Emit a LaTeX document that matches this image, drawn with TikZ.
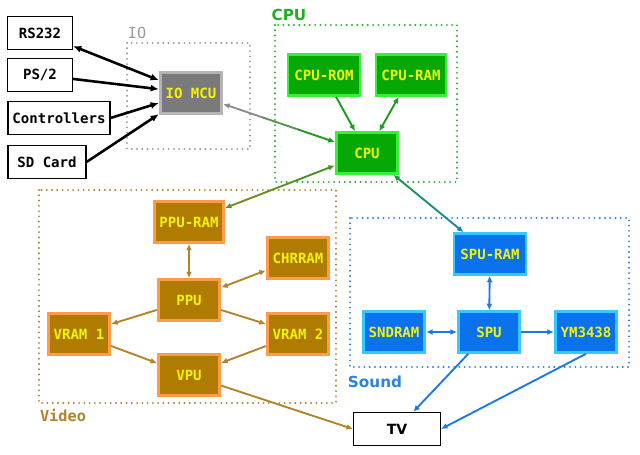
\documentclass[tikz,border=0pt]{standalone}
\usepackage{fontspec}
\setmainfont{DejaVu Sans}
\setsansfont{DejaVu Sans}
\setmonofont{DejaVu Sans Mono}
\usepackage{xcolor}
\usepackage{tikz}
\usetikzlibrary{calc}
\usetikzlibrary{arrows.meta}

\definecolor{chipyellow}{HTML}{F2F20A}
\definecolor{iofill}{HTML}{7A7A7A}
\definecolor{ioedge}{HTML}{B4B4B4}
\definecolor{iogroup}{HTML}{9A9A9A}
\definecolor{cpufill}{HTML}{06A806}
\definecolor{cpuedge}{HTML}{3AEE3A}
\definecolor{cpugroup}{HTML}{22B022}
\definecolor{cpulink}{HTML}{1C9A1C}
\definecolor{vidfill}{HTML}{AF7B00}
\definecolor{videdge}{HTML}{FF9B4A}
\definecolor{vidgroup}{HTML}{B0822A}
\definecolor{vidlink}{HTML}{B08428}
\definecolor{sndfill}{HTML}{0A72EC}
\definecolor{sndedge}{HTML}{36C8FF}
\definecolor{sndgroup}{HTML}{2A82E6}
\definecolor{sndlink}{HTML}{1A78E8}
\definecolor{linkgray}{HTML}{8C8C8C}

\tikzset{
  chip/.style={rectangle, line width=2.5pt, minimum width=1.84cm, minimum height=1.22cm,
    inner sep=1pt, text=chipyellow, font=\fontsize{12}{14}\selectfont\ttfamily\bfseries},
  iochip/.style={chip, fill=iofill, draw=ioedge},
  cpuchip/.style={chip, fill=cpufill, draw=cpuedge},
  vidchip/.style={chip, fill=vidfill, draw=videdge},
  sndchip/.style={chip, fill=sndfill, draw=sndedge},
  port/.style={rectangle, draw=black, line width=0.9pt, fill=white, minimum width=1.95cm,
    minimum height=0.97cm, inner sep=1pt, font=\fontsize{12}{14}\selectfont\ttfamily\bfseries},
  group/.style={line width=1.8pt, dash pattern=on 0pt off 4.5pt, line cap=round},
  grouplabel/.style={inner sep=0pt, font=\fontsize{13}{15}\selectfont\bfseries},
  link/.style={line width=1.6pt, >={Latex[length=5.5pt,width=5pt]}},
  buslink/.style={line width=2.2pt, black, >={Latex[length=7pt,width=6pt]}},
}

\newcommand{\mixlink}[4]
	{
	\coordinate (tempa) at ($(#1)!0.4!(#2)$);
	\coordinate (tempb) at ($(#1)!0.6!(#2)$);
	\draw[link, #3, <-] (#1) -- (tempa);
	\draw[link, #3!50!#4] (tempa) -- (tempb);%middle part
	\draw[link, #4, ->] (tempb) -- (#2);
	}

\begin{document}
\begin{tikzpicture}[x=0.03cm, y=-0.03cm]
       \useasboundingbox (0,0) rectangle (640,455);

       \draw[group, iogroup] (127,43) rectangle (250,149);
       \draw[group, cpugroup] (275,25) rectangle (457,182);
       \draw[group, vidgroup] (39,190) rectangle (336,403);
       \draw[group, sndgroup] (350,218) rectangle (629,367);

       \node[grouplabel, text=iogroup, font=\fontsize{13}{15}\selectfont\ttfamily\mdseries] (iolabel) at (137,33) {IO};
       \node[grouplabel, text=cpugroup] (cpulabel) at (289,15) {CPU};
       \node[grouplabel, text=vidgroup, font=\fontsize{13}{15}\selectfont\ttfamily\bfseries] (vidlabel) at (63,415) {Video};
       \node[grouplabel, text=sndgroup] (sndlabel) at (375,382) {Sound};

       \node[port] (rs232) at (40,33) {RS232};
       \node[port] (ps2) at (40,75) {PS/2};
       \node[port, minimum width=3.06cm] (controllers) at (59,118) {Controllers};
       \node[port, minimum width=2.34cm] (sdcard) at (47,162) {SD Card};
       \node[port, minimum width=2.61cm, minimum height=1.0cm, font=\fontsize{12}{14}\selectfont\sffamily\bfseries] (tv) at (397,429) {TV};

       \node[iochip] (iomcu) at (191,93) {IO MCU};

       \node[cpuchip, minimum width=2.16cm] (cpurom) at (324,75) {CPU-ROM};
       \node[cpuchip, minimum width=2.1cm] (cpuram) at (411,75) {CPU-RAM};
       \node[cpuchip] (cpu) at (367,153) {CPU};

       \node[vidchip, minimum width=2.07cm] (ppuram) at (189,222) {PPU-RAM};
       \node[vidchip] (chrram) at (298,258) {CHRRAM};
       \node[vidchip] (ppu) at (189,300) {PPU};
       \node[vidchip] (vram1) at (79,334) {VRAM 1};
       \node[vidchip] (vram2) at (298,334) {VRAM 2};
       \node[vidchip] (vpu) at (189,375) {VPU};

       \node[sndchip, minimum width=2.16cm] (spuram) at (490,254) {SPU-RAM};
       \node[sndchip] (sndram) at (394,332) {SNDRAM};
       \node[sndchip] (spu) at (489,332) {SPU};
       \node[sndchip] (ym) at (586,332) {YM3438};

       \draw[buslink, <->] (rs232) -- (iomcu);
       \draw[buslink, ->] (ps2) -- (iomcu);
       \draw[buslink, ->] (controllers.east) -- (iomcu);
       \draw[buslink, ->] (sdcard.east) -- (iomcu);

       \mixlink{iomcu}{cpu}{linkgray}{cpulink}
       \mixlink{ppuram}{cpu}{vidlink!55!cpulink}{cpulink!75!vidlink}
       \mixlink{cpu}{spuram}{cpulink!80!sndlink}{sndlink!70!cpulink}

       \draw[link, cpulink, ->] (cpurom) -- (cpu);
       \draw[link, cpulink, <->] (cpuram) -- (cpu);

       \draw[link, vidlink, <->] (ppuram) -- (ppu);
       \draw[link, vidlink, <->] (ppu) -- (chrram);
       \draw[link, vidlink, ->] (ppu) -- (vram1);
       \draw[link, vidlink, ->] (ppu) -- (vram2);
       \draw[link, vidlink, ->] (vram1) -- (vpu);
       \draw[link, vidlink, ->] (vram2) -- (vpu);
       \draw[link, vidlink, ->] (vpu) -- (tv.west);

       \draw[link, sndlink, <->] (spuram) -- (spu);
       \draw[link, sndlink, <->] (sndram) -- (spu);
       \draw[link, sndlink, ->] (spu) -- (ym);
       \draw[link, sndlink, ->] (spu) -- (tv);
       \draw[link, sndlink, ->] (ym.south) -- (tv.east);
\end{tikzpicture}
\end{document}
